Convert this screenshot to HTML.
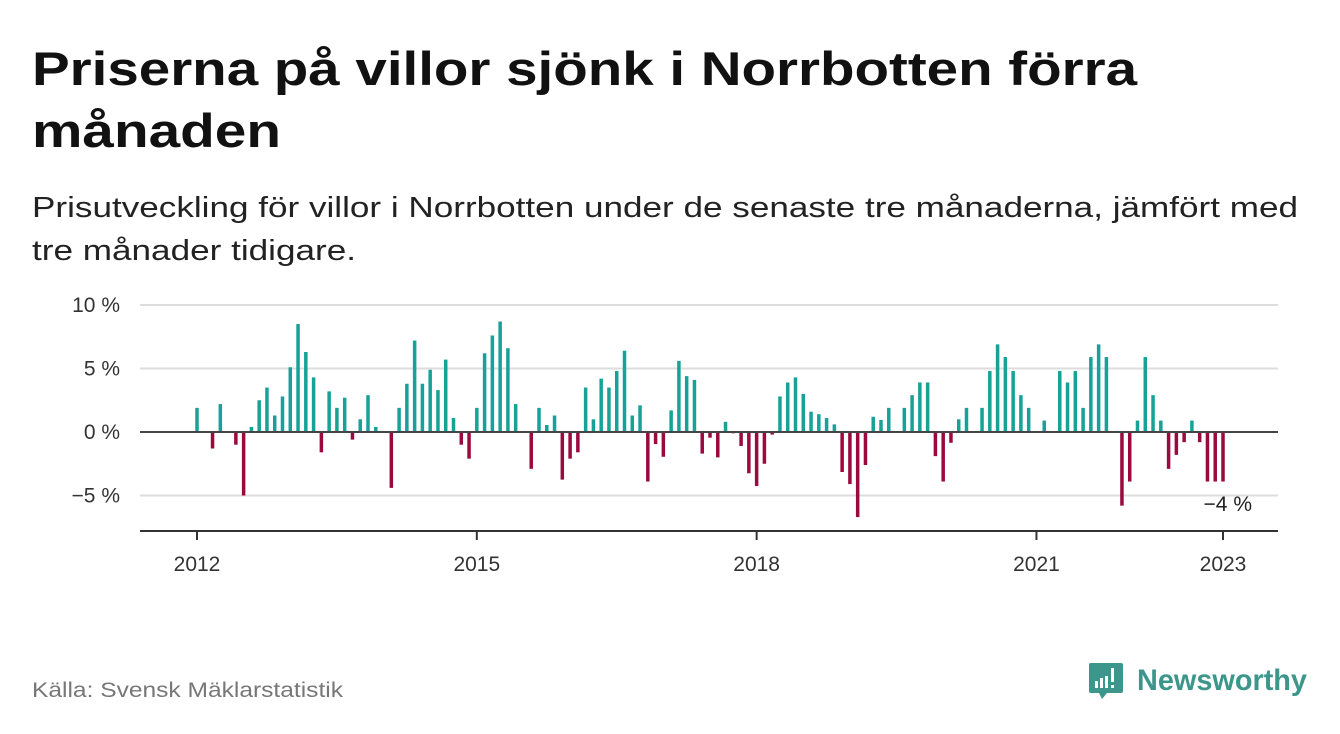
<!DOCTYPE html>
<html><head><meta charset="utf-8"><style>
html,body{margin:0;padding:0;background:#fff;}
svg{display:block;font-family:"Liberation Sans",sans-serif;}
</style></head><body>
<svg id="chart" width="1340" height="734" viewBox="0 0 1340 734" xmlns="http://www.w3.org/2000/svg">
<text x="32" y="85" font-size="47" font-weight="bold" fill="#111" textLength="1105" lengthAdjust="spacingAndGlyphs">Priserna på villor sjönk i Norrbotten förra</text>
<text x="32" y="147" font-size="47" font-weight="bold" fill="#111" textLength="249" lengthAdjust="spacingAndGlyphs">månaden</text>
<text x="32" y="217" font-size="29" fill="#222" textLength="1266" lengthAdjust="spacingAndGlyphs">Prisutveckling för villor i Norrbotten under de senaste tre månaderna, jämfört med</text>
<text x="32" y="260" font-size="29" fill="#222" textLength="324" lengthAdjust="spacingAndGlyphs">tre månader tidigare.</text>
<g id="grid"></g>
<g id="bars"></g>
<g id="axes"></g>
<text x="1252" y="511" font-size="21" fill="#222" text-anchor="end">−4 %</text>
<text x="32" y="697" font-size="21" fill="#777" textLength="311" lengthAdjust="spacingAndGlyphs">Källa: Svensk Mäklarstatistik</text>
<g>
<path d="M1091 663 h30 a2 2 0 0 1 2 2 v26 a2 2 0 0 1 -2 2 h-14 l-5 6 l-3 -6 h-8 a2 2 0 0 1 -2 -2 v-26 a2 2 0 0 1 2 -2z" fill="#3d968c"/>
<rect x="1095" y="681" width="3" height="7" fill="#fff"/>
<rect x="1100" y="678" width="3" height="10" fill="#fff"/>
<rect x="1105" y="676" width="3" height="12" fill="#fff"/>
<rect x="1111" y="668" width="3" height="14" fill="#fff"/>
<rect x="1111" y="685" width="3" height="3" fill="#fff"/>
<text x="1137" y="690" font-size="30" font-weight="bold" fill="#3d968c" textLength="170" lengthAdjust="spacingAndGlyphs">Newsworthy</text>
</g>
</svg>
<script>
const values = [1.9,0,-1.3,2.2,0,-1.0,-5.0,0.4,2.5,3.5,1.3,2.8,5.1,8.5,6.3,4.3,-1.6,3.2,1.9,2.7,-0.6,1.0,2.9,0.4,0,-4.4,1.9,3.8,7.2,3.8,4.9,3.3,5.7,1.1,-1.0,-2.1,1.9,6.2,7.6,8.7,6.6,2.2,0,-2.9,1.9,0.55,1.3,-3.75,-2.1,-1.6,3.5,1.0,4.2,3.5,4.8,6.4,1.3,2.1,-3.9,-0.95,-1.95,1.7,5.6,4.4,4.1,-1.7,-0.45,-2.0,0.8,-0.1,-1.1,-3.25,-4.25,-2.5,-0.2,2.8,3.9,4.3,3.0,1.6,1.4,1.1,0.6,-3.15,-4.1,-6.7,-2.6,1.2,0.95,1.9,0,1.9,2.9,3.9,3.9,-1.9,-3.9,-0.85,1.0,1.9,0,1.9,4.8,6.9,5.9,4.8,2.9,1.9,0,0.9,0,4.8,3.9,4.8,1.9,5.9,6.9,5.9,0,-5.8,-3.9,0.9,5.9,2.9,0.9,-2.9,-1.8,-0.8,0.9,-0.8,-3.9,-3.9,-3.9];
const yTicks = [10,5,0,-5];
const yTickLabels = ["10 %","5 %","0 %","−5 %"];
const xTickMonths = [0,36,72,108,132];
const xTickLabels = ["2012","2015","2018","2021","2023"];
const NS="http://www.w3.org/2000/svg";
const x = i => 197 + i*(1223-197)/132;
const y = v => 432 - v*12.7;
function mk(tag, attrs, parent){const e=document.createElementNS(NS,tag);for(const k in attrs)e.setAttribute(k,attrs[k]);parent.appendChild(e);return e;}
const grid=document.getElementById('grid'), bars=document.getElementById('bars'), axes=document.getElementById('axes');
yTicks.forEach((t,k)=>{
  if(t!==0){const l=mk('line',{x1:140,x2:1278,y1:y(t),y2:y(t),stroke:'#dddddd','stroke-width':2},grid);
  
  }
  const tx=mk('text',{x:120,y:y(t)+7,'font-size':21,fill:'#333','text-anchor':'end'},grid);
  tx.textContent=yTickLabels[k];
  
  
});
values.forEach((v,i)=>{
  if(v===0)return;
  const r=mk('rect',{x:x(i)-1.75,width:3.5,y:Math.min(y(v),y(0)),height:Math.abs(y(v)-y(0)),fill:v>0?'#16a297':'#9b0a3e'},bars);
  
  
});
const z=mk('line',{x1:140,x2:1278,y1:y(0),y2:y(0),stroke:'#444','stroke-width':2},axes);


const xa=mk('line',{x1:140,x2:1278,y1:531,y2:531,stroke:'#333','stroke-width':2},axes);


xTickMonths.forEach((m,k)=>{
  const t=mk('line',{x1:x(m),x2:x(m),y1:531,y2:540,stroke:'#333','stroke-width':2},axes);
  
  
  const tx=mk('text',{x:x(m),y:571,'font-size':21,fill:'#333','text-anchor':'middle'},axes);
  tx.textContent=xTickLabels[k];
  
  
});
</script>
</body></html>
